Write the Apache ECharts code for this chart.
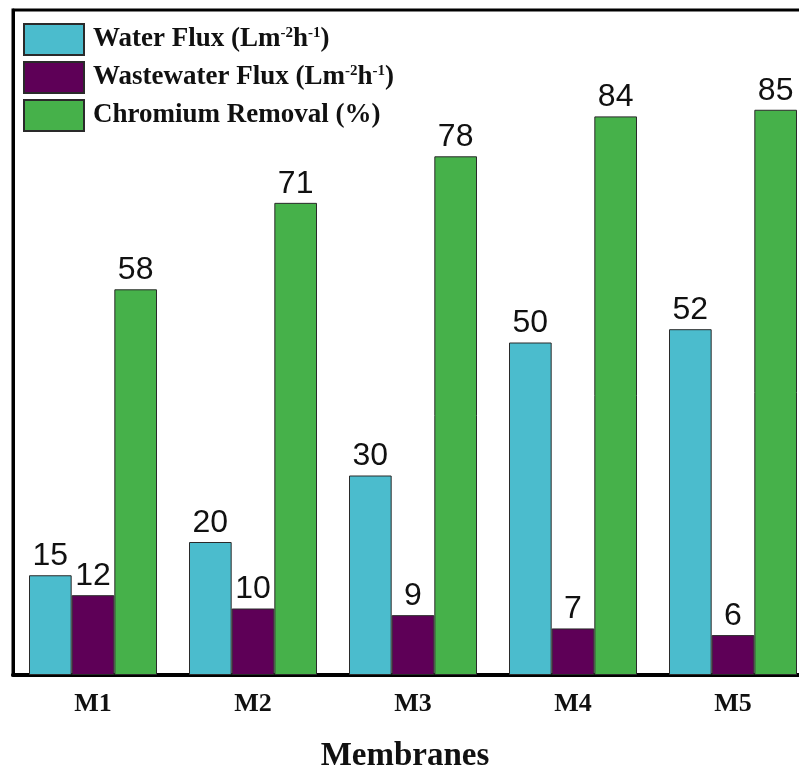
<!DOCTYPE html>
<html>
<head>
<meta charset="utf-8">
<script src="https://cdn.jsdelivr.net/npm/echarts@6/dist/echarts.min.js"></script>
<style>html,body{margin:0;padding:0;background:#fff;overflow:hidden}#c{width:840px;height:800px}</style>
</head>
<body>
<div id="c"></div>
<script>
const categories = ['M1', 'M2', 'M3', 'M4', 'M5'];
const waterFlux = [15, 20, 30, 50, 52];
const wastewaterFlux = [12, 10, 9, 7, 6];
const chromiumRemoval = [58, 71, 78, 84, 85];
const seriesNames = ['Water Flux', 'Wastewater Flux', 'Chromium Removal (%)'];

const chart = echarts.init(document.getElementById('c'));
const labelStyle = {
  show: true, position: 'top', distance: 3,
  fontFamily: '"Liberation Sans", Arial, sans-serif', fontSize: 32, color: '#111'
};
function bar(name, data, color) {
  return {
    name: name, type: 'bar', data: data, barGap: '0%', barCategoryGap: '20%',
    itemStyle: { color: color, borderColor: '#2a2a2a', borderWidth: 1 },
    label: labelStyle
  };
}
chart.setOption({
  animation: false,
  backgroundColor: '#fff',
  grid: { left: 13, top: 10, width: 800, height: 665, outerBoundsMode: 'none', containLabel: false, show: true, borderColor: '#000', borderWidth: 3, backgroundColor: 'transparent' },
  legend: {
    orient: 'vertical', left: 23, top: 23, padding: 0, itemWidth: 60, itemHeight: 31, itemGap: 5,
    icon: 'rect',
    formatter: function (n) {
      if (n === seriesNames[2]) return '{g|}{a|' + n + '}';
      return '{g|}{a|' + n + ' (Lm}{s|-2}{a|h}{s|-1}{a|)}';
    },
    textStyle: {
      rich: {
        g: { width: 4 },
        a: { fontFamily: '"Liberation Serif", "Times New Roman", serif', fontWeight: 'bold', fontSize: 27, color: '#111' },
        s: { fontFamily: '"Liberation Serif", "Times New Roman", serif', fontWeight: 'bold', fontSize: 15, color: '#111', verticalAlign: 'top', padding: [0, 0, 13, 0] }
      }
    }
  },
  xAxis: {
    type: 'category', data: categories,
    axisLine: { lineStyle: { color: '#000', width: 4 } },
    axisTick: { show: false },
    axisLabel: { margin: 16, fontFamily: '"Liberation Serif", "Times New Roman", serif', fontWeight: 'bold', fontSize: 26, color: '#111' },
    name: 'Membranes', nameLocation: 'middle', nameGap: 65,
    nameTextStyle: { fontFamily: '"Liberation Serif", "Times New Roman", serif', fontWeight: 'bold', fontSize: 33, color: '#111', padding: [0, 16, 0, 0] }
  },
  yAxis: {
    type: 'value', min: 0, max: 100,
    axisLine: { show: true, lineStyle: { color: '#000', width: 3 } },
    axisTick: { show: false }, axisLabel: { show: false }, splitLine: { show: false }
  },
  series: [
    bar(seriesNames[0], waterFlux, '#4bbccd'),
    bar(seriesNames[1], wastewaterFlux, '#5e0057'),
    bar(seriesNames[2], chromiumRemoval, '#46b14a')
  ]
});
</script>
</body>
</html>
